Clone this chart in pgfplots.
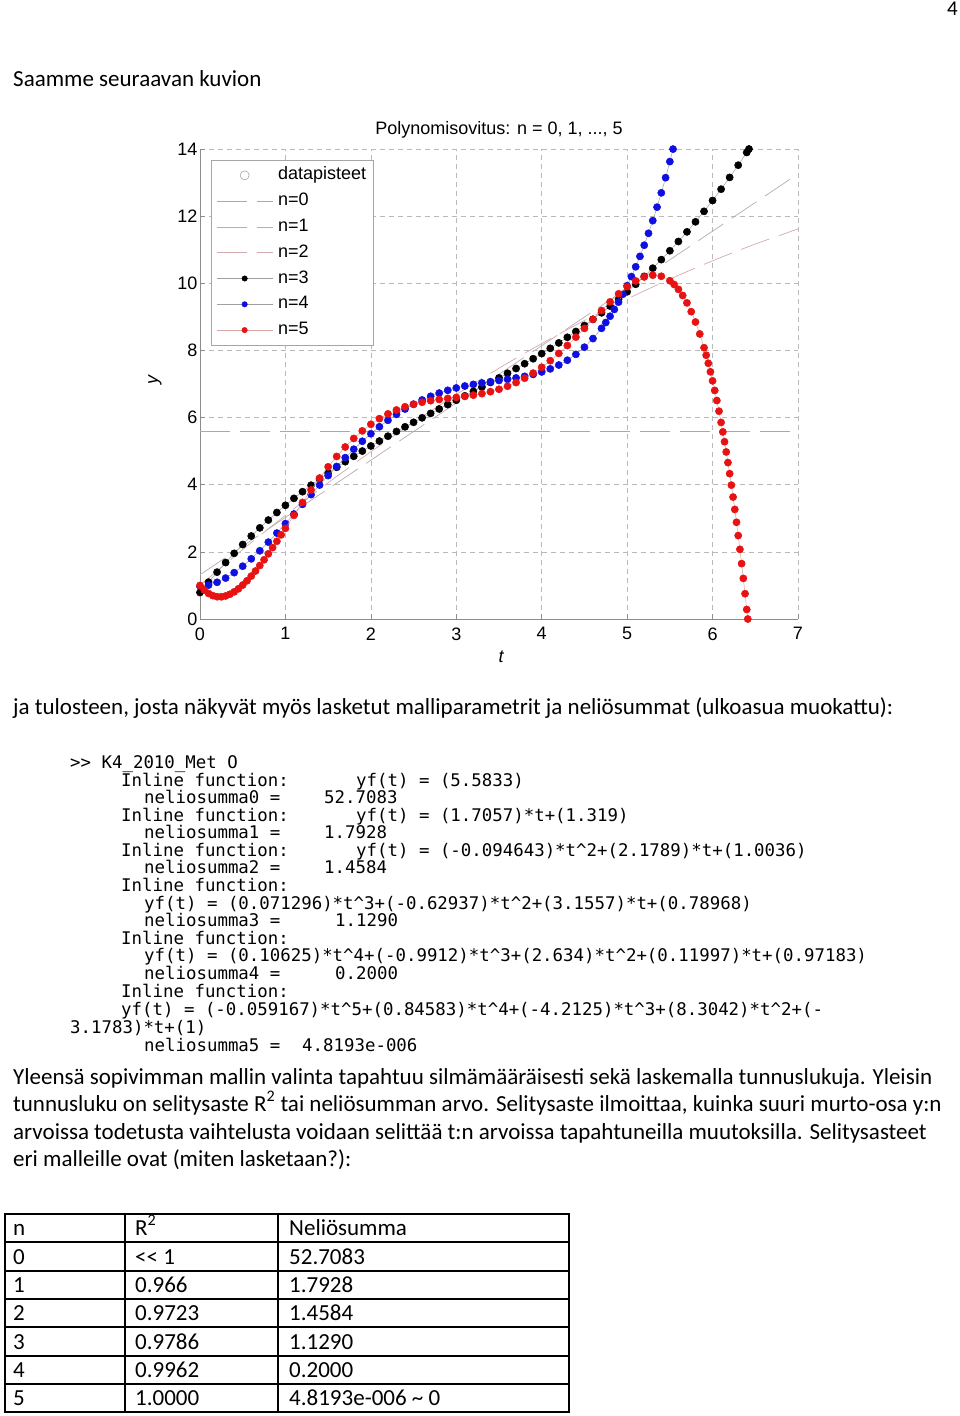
\documentclass[border=0pt]{standalone}
\usepackage{pgfplots}
\pgfplotsset{compat=1.18}
\usepackage{fontspec}
\setmainfont{Carlito}
\newfontfamily\arialfont{Liberation Sans}
\newfontfamily\codefont{DejaVu Sans Mono}
\definecolor{cnull}{RGB}{170,170,170}
\definecolor{cone}{RGB}{185,172,178}
\definecolor{ctwo}{RGB}{210,170,176}
\definecolor{cblue}{RGB}{15,15,225}
\definecolor{cred}{RGB}{232,18,18}
\definecolor{cconn}{RGB}{160,160,160}
\definecolor{cconnred}{RGB}{215,165,165}
\newcommand{\bodyfont}{\fontsize{23}{27}\selectfont}
\newcommand{\cf}{\codefont\fontsize{17.4}{20}\selectfont}
\newcommand{\af}{\arialfont\fontsize{18}{20}\selectfont}

\begin{document}
\begin{tikzpicture}
\useasboundingbox (0pt,0pt) rectangle (960pt,-1416pt);
\fill[white] (0pt,0pt) rectangle (960pt,-1416pt);
\tikzset{txt/.style={anchor=base west, inner sep=0pt, font=\bodyfont},
         code/.style={anchor=base west, inner sep=0pt, font=\cf}}

\node[anchor=base east, inner sep=0pt, font=\fontsize{21}{24}\selectfont] at (958pt,-15pt) {4};
\node[txt] at (13pt,-86pt) {Saamme seuraavan kuvion};

% chart
\node[anchor=base, inner sep=0pt, font=\af] at (499pt,-134.5pt) {Polynomisovitus: n = 0, 1, ..., 5};
\node[rotate=90, inner sep=0pt, font=\arialfont\itshape\fontsize{18}{20}\selectfont] at (155pt,-380pt) {y};
\node[inner sep=0pt, font=\arialfont\itshape\fontsize{18}{20}\selectfont] at (501pt,-657pt) {t};

\begin{axis}[
  at={(200pt,-619pt)}, anchor=south west,
  scale only axis, width=598pt, height=470pt,
  xmin=0, xmax=7, ymin=0, ymax=14,
  xtick={0,1,...,7}, ytick={0,2,...,14},
  axis lines=left,
  axis line style={-, draw=gray!90, line width=0.7pt},
  every outer x axis line/.append style={-},
  every outer y axis line/.append style={-},
  tick style={draw=gray!90, line width=0.6pt},
  major tick length=5pt,
  tick align=inside,
  grid=major,
  major grid style={dash pattern=on 5pt off 4pt, draw=gray!55, line width=0.6pt},
  ticklabel style={font=\af},
  xticklabel style={yshift=-5pt},
  yticklabel style={xshift=1pt},
  /pgf/number format/assume math mode=true,
  clip mode=individual,
  legend image code/.code={\draw[mark repeat=2,mark phase=2,#1] plot coordinates {(0pt,0pt) (28pt,0pt) (56pt,0pt)};},
  legend image post style={mark size=2.7pt},
  legend style={at={(0.0184,0.9766)}, anchor=north west, draw=gray!70, line width=0.6pt, fill=white,
     font=\af, inner xsep=5pt, inner ysep=5pt, row sep=5.8pt, column sep=3pt,
     nodes={inner sep=2pt, text height=12.5pt, text depth=3.5pt, anchor=west}},
  legend cell align=left,
]
\addlegendimage{legend image code/.code={\draw[gray!70, line width=0.6pt] (28pt,0pt) circle (4.5pt);}}
\addlegendentry{datapisteet}

\addplot[cnull, line width=0.7pt, dash pattern=on 30pt off 10pt] coordinates {(0,5.5833) (7,5.5833)};
\addlegendentry{n=0}

\addplot[cone, line width=0.7pt, dash pattern=on 30pt off 10pt] coordinates {(0,1.319) (7,13.2589)};
\addlegendentry{n=1}

\addplot[ctwo, line width=0.7pt, dash pattern=on 30pt off 10pt, smooth] coordinates {
(0,1.0036) (0.5,2.0694) (1,3.0879) (1.5,4.0590) (2,4.9828) (2.5,5.8593) (3,6.6885) (3.5,7.4704)
(4,8.2049) (4.5,8.8921) (5,9.5320) (5.5,10.1246) (6,10.6699) (6.5,11.1678) (7,11.6184)};
\addlegendentry{n=2}

\addplot[cconn, line width=0.5pt, mark=*, mark size=3.6pt, mark options={draw=black, fill=black, solid}] coordinates {
(0,0.790) (0.1,1.099) (0.2,1.396) (0.3,1.682) (0.4,1.956) (0.5,2.219) (0.6,2.472) (0.7,2.715) (0.8,2.948) (0.9,3.172)
(1.0,3.387) (1.1,3.594) (1.2,3.793) (1.3,3.985) (1.4,4.170) (1.5,4.348) (1.6,4.520) (1.7,4.686) (1.8,4.847) (1.9,5.003)
(2.0,5.154) (2.1,5.301) (2.2,5.445) (2.3,5.586) (2.4,5.724) (2.5,5.859) (2.6,5.993) (2.7,6.125) (2.8,6.256) (2.9,6.387)
(3.0,6.517) (3.1,6.648) (3.2,6.779) (3.3,6.912) (3.4,7.046) (3.5,7.182) (3.6,7.320) (3.7,7.461) (3.8,7.605) (3.9,7.753)
(4.0,7.906) (4.1,8.062) (4.2,8.224) (4.3,8.391) (4.4,8.563) (4.5,8.742) (4.6,8.928) (4.7,9.121) (4.8,9.321) (4.9,9.529)
(5.0,9.746) (5.1,9.971) (5.2,10.206) (5.3,10.450) (5.4,10.705) (5.5,10.969) (5.6,11.245) (5.7,11.532) (5.8,11.831) (5.9,12.143)
(6.0,12.466) (6.1,12.803) (6.2,13.154) (6.3,13.518) (6.4,13.897) (6.426,14.0)};
\addlegendentry{n=3}

\addplot[cconn, line width=0.5pt, mark=*, mark size=3.6pt, mark options={draw=cblue, fill=cblue, solid}] coordinates {
(0,0.972) (0.1,1.009) (0.2,1.093) (0.3,1.219) (0.4,1.381) (0.5,1.573) (0.6,1.792) (0.7,2.032) (0.8,2.290) (0.9,2.560)
(1.0,2.841) (1.1,3.127) (1.2,3.416) (1.3,3.705) (1.4,3.991) (1.5,4.271) (1.6,4.543) (1.7,4.806) (1.8,5.057) (1.9,5.295)
(2.0,5.518) (2.1,5.727) (2.2,5.919) (2.3,6.095) (2.4,6.254) (2.5,6.397) (2.6,6.524) (2.7,6.634) (2.8,6.730) (2.9,6.812)
(3.0,6.882) (3.1,6.940) (3.2,6.989) (3.3,7.032) (3.4,7.069) (3.5,7.105) (3.6,7.141) (3.7,7.181) (3.8,7.228) (3.9,7.286)
(4.0,7.359) (4.1,7.451) (4.2,7.565) (4.3,7.708) (4.4,7.883) (4.5,8.096) (4.6,8.353) (4.7,8.658) (4.75,8.831) (4.8,9.018)
(4.85,9.221) (4.9,9.439) (4.95,9.675) (5.0,9.928) (5.05,10.200) (5.1,10.491) (5.15,10.802) (5.2,11.134) (5.25,11.489)
(5.3,11.866) (5.35,12.268) (5.4,12.694) (5.45,13.146) (5.5,13.625) (5.537,13.997)};
\addlegendentry{n=4}

\addplot[cconnred, line width=0.5pt, mark=*, mark size=3.6pt, mark options={draw=cred, fill=cred, solid}] coordinates {
(0,1.000) (0.05,0.861) (0.1,0.761) (0.15,0.696) (0.2,0.664) (0.25,0.662) (0.3,0.687) (0.35,0.737) (0.4,0.809) (0.45,0.901)
(0.5,1.011) (0.55,1.138) (0.6,1.278) (0.65,1.430) (0.7,1.592) (0.75,1.764) (0.8,1.942) (0.85,2.127) (0.9,2.315) (0.95,2.507)
(1.0,2.700) (1.1,3.088) (1.2,3.472) (1.3,3.844) (1.4,4.199) (1.5,4.533) (1.6,4.842) (1.7,5.124) (1.8,5.379) (1.9,5.604)
(2.0,5.800) (2.1,5.968) (2.2,6.110) (2.3,6.227) (2.4,6.322) (2.5,6.397) (2.6,6.457) (2.7,6.503) (2.8,6.540) (2.9,6.571)
(3.0,6.600) (3.1,6.631) (3.2,6.668) (3.3,6.713) (3.4,6.771) (3.5,6.843) (3.6,6.933) (3.7,7.043) (3.8,7.173) (3.9,7.325)
(4.0,7.499) (4.1,7.695) (4.2,7.912) (4.3,8.146) (4.4,8.396) (4.5,8.657) (4.6,8.923) (4.7,9.188) (4.8,9.446) (4.9,9.686)
(5.0,9.898) (5.1,10.070) (5.2,10.190) (5.3,10.242) (5.4,10.210) (5.5,10.076) (5.55,9.964) (5.6,9.819) (5.65,9.637) (5.7,9.417)
(5.75,9.154) (5.8,8.846) (5.85,8.490) (5.9,8.082) (5.925,7.857) (5.95,7.618) (5.975,7.364) (6.0,7.094) (6.025,6.809) (6.05,6.508)
(6.075,6.190) (6.1,5.855) (6.12,5.574) (6.14,5.281) (6.16,4.976) (6.18,4.659) (6.2,4.330) (6.22,3.988) (6.24,3.632) (6.26,3.264)
(6.28,2.881) (6.3,2.485) (6.32,2.075) (6.34,1.650) (6.36,1.210) (6.38,0.754) (6.40,0.284) (6.412,0)};
\addlegendentry{n=5}
\end{axis}

\node[txt] at (13pt,-714pt) {ja tulosteen, josta näkyvät myös lasketut malliparametrit ja neliösummat (ulkoasua muokattu):};

% code output
\node[code] at (70pt,-768pt) {>> K4\_2010\_Met O};
\node[code] at (121pt,-786pt) {Inline function:};
\node[code] at (356pt,-786pt) {yf(t) = (5.5833)};
\node[code] at (144pt,-803pt) {neliosumma0 =};
\node[code] at (324pt,-803pt) {52.7083};
\node[code] at (121pt,-821pt) {Inline function:};
\node[code] at (356pt,-821pt) {yf(t) = (1.7057)*t+(1.319)};
\node[code] at (144pt,-838pt) {neliosumma1 =};
\node[code] at (324pt,-838pt) {1.7928};
\node[code] at (121pt,-856pt) {Inline function:};
\node[code] at (356pt,-856pt) {yf(t) = (-0.094643)*t\textasciicircum 2+(2.1789)*t+(1.0036)};
\node[code] at (144pt,-873pt) {neliosumma2 =};
\node[code] at (324pt,-873pt) {1.4584};
\node[code] at (121pt,-891pt) {Inline function:};
\node[code] at (144pt,-909pt) {yf(t) = (0.071296)*t\textasciicircum 3+(-0.62937)*t\textasciicircum 2+(3.1557)*t+(0.78968)};
\node[code] at (144pt,-926pt) {neliosumma3 =};
\node[code] at (335pt,-926pt) {1.1290};
\node[code] at (121pt,-944pt) {Inline function:};
\node[code] at (144pt,-961pt) {yf(t) = (0.10625)*t\textasciicircum 4+(-0.9912)*t\textasciicircum 3+(2.634)*t\textasciicircum 2+(0.11997)*t+(0.97183)};
\node[code] at (144pt,-979pt) {neliosumma4 =};
\node[code] at (335pt,-979pt) {0.2000};
\node[code] at (121pt,-997pt) {Inline function:};
\node[code] at (121pt,-1015pt) {yf(t) = (-0.059167)*t\textasciicircum 5+(0.84583)*t\textasciicircum 4+(-4.2125)*t\textasciicircum 3+(8.3042)*t\textasciicircum 2+(-};
\node[code] at (70pt,-1033pt) {3.1783)*t+(1)};
\node[code] at (144pt,-1051pt) {neliosumma5 =};
\node[code] at (302pt,-1051pt) {4.8193e-006};

% paragraph
\node[txt] at (13pt,-1084pt) {Yleensä sopivimman mallin valinta tapahtuu silmämääräisesti sekä laskemalla tunnuslukuja. Yleisin};
\node[txt] at (13pt,-1111pt) {tunnusluku on selitysaste R\textsuperscript{2} tai neliösumman arvo. Selitysaste ilmoittaa, kuinka suuri murto-osa y:n};
\node[txt] at (13pt,-1139pt) {arvoissa todetusta vaihtelusta voidaan selittää t:n arvoissa tapahtuneilla muutoksilla. Selitysasteet};
\node[txt] at (13pt,-1166pt) {eri malleille ovat (miten lasketaan?):};

% table
\draw[line width=1.5pt] (5pt,-1214pt) rectangle (569pt,-1412pt);
\draw[line width=1.5pt] (5pt,-1242pt) -- (569pt,-1242pt);
\draw[line width=1.5pt] (5pt,-1271pt) -- (569pt,-1271pt);
\draw[line width=1.5pt] (5pt,-1299pt) -- (569pt,-1299pt);
\draw[line width=1.5pt] (5pt,-1327pt) -- (569pt,-1327pt);
\draw[line width=1.5pt] (5pt,-1356pt) -- (569pt,-1356pt);
\draw[line width=1.5pt] (5pt,-1384pt) -- (569pt,-1384pt);
\draw[line width=1.5pt] (125pt,-1214pt) -- (125pt,-1412pt);
\draw[line width=1.5pt] (278pt,-1214pt) -- (278pt,-1412pt);

\node[txt] at (13pt,-1235pt) {n};
\node[txt] at (135pt,-1235pt) {R\textsuperscript{2}};
\node[txt] at (289pt,-1235pt) {Neliösumma};
\node[txt] at (13pt,-1264pt) {0};
\node[txt] at (135pt,-1264pt) {{<}{<} 1};
\node[txt] at (289pt,-1264pt) {52.7083};
\node[txt] at (13pt,-1292pt) {1};
\node[txt] at (135pt,-1292pt) {0.966};
\node[txt] at (289pt,-1292pt) {1.7928};
\node[txt] at (13pt,-1320pt) {2};
\node[txt] at (135pt,-1320pt) {0.9723};
\node[txt] at (289pt,-1320pt) {1.4584};
\node[txt] at (13pt,-1349pt) {3};
\node[txt] at (135pt,-1349pt) {0.9786};
\node[txt] at (289pt,-1349pt) {1.1290};
\node[txt] at (13pt,-1377pt) {4};
\node[txt] at (135pt,-1377pt) {0.9962};
\node[txt] at (289pt,-1377pt) {0.2000};
\node[txt] at (13pt,-1405pt) {5};
\node[txt] at (135pt,-1405pt) {1.0000};
\node[txt] at (289pt,-1405pt) {4.8193e-006 \textasciitilde{} 0};
\end{tikzpicture}
\end{document}
